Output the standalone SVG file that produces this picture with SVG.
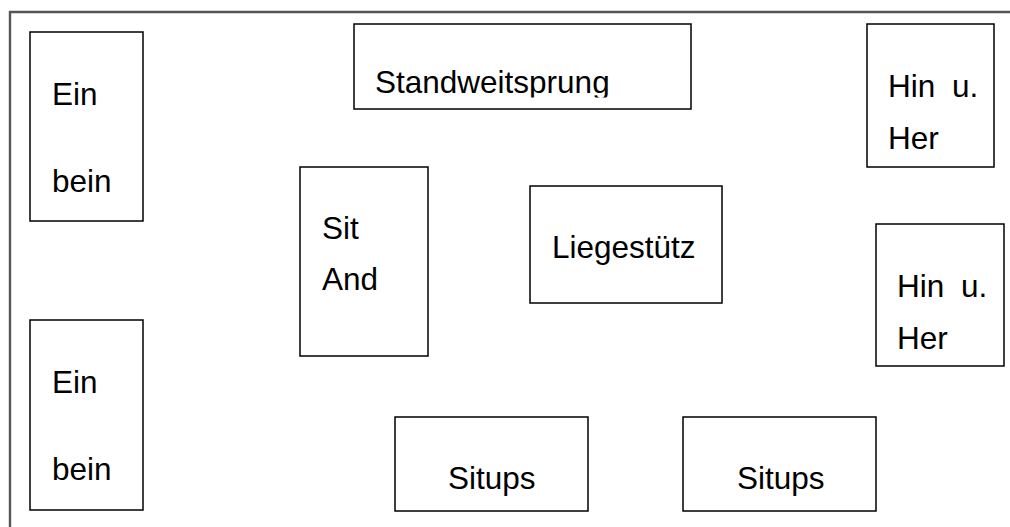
<svg xmlns="http://www.w3.org/2000/svg" width="1010" height="527" viewBox="0 0 1010 527">
<style>
.box{fill:#fff;stroke:#000;stroke-width:1.5}
.t{font-family:"Liberation Sans",Arial,sans-serif;font-size:31.5px;fill:#000}
.frame{fill:none;stroke:#555;stroke-width:2.4}
</style>
<defs>
<clipPath id="clipSW"><rect x="354" y="24" width="337" height="73.5"/></clipPath>
</defs>
<rect width="1010" height="527" fill="#fff"/>
<path class="frame" d="M10,527 V12 H1010"/>
<g id="einbein1"><rect class="box" x="30" y="32" width="113" height="189"/><text class="t" x="52" y="105">Ein</text><text class="t" x="52" y="192">bein</text></g>
<g id="einbein2"><rect class="box" x="30" y="320" width="113" height="190"/><text class="t" x="52" y="393">Ein</text><text class="t" x="52" y="480">bein</text></g>
<g id="standweitsprung"><rect class="box" x="354" y="24" width="337" height="85"/><text class="t" x="375" y="93" clip-path="url(#clipSW)">Standweitsprung</text></g>
<g id="hinher1"><rect class="box" x="867" y="24" width="127" height="143"/><text class="t" x="888" y="97" word-spacing="8">Hin u.</text><text class="t" x="888" y="149">Her</text></g>
<g id="hinher2"><rect class="box" x="876" y="224" width="128" height="142"/><text class="t" x="897" y="297" word-spacing="8">Hin u.</text><text class="t" x="897" y="349">Her</text></g>
<g id="sitand"><rect class="box" x="300" y="167" width="128" height="189"/><text class="t" x="322" y="239">Sit</text><text class="t" x="322" y="290">And</text></g>
<g id="liegestuetz"><rect class="box" x="530" y="186" width="192" height="117"/><text class="t" x="552" y="258">Liegestütz</text></g>
<g id="situps1"><rect class="box" x="395" y="417" width="193" height="94"/><text class="t" x="448" y="489">Situps</text></g>
<g id="situps2"><rect class="box" x="683" y="417" width="193" height="94"/><text class="t" x="737" y="489">Situps</text></g>
<g id="connectors"></g>
</svg>
